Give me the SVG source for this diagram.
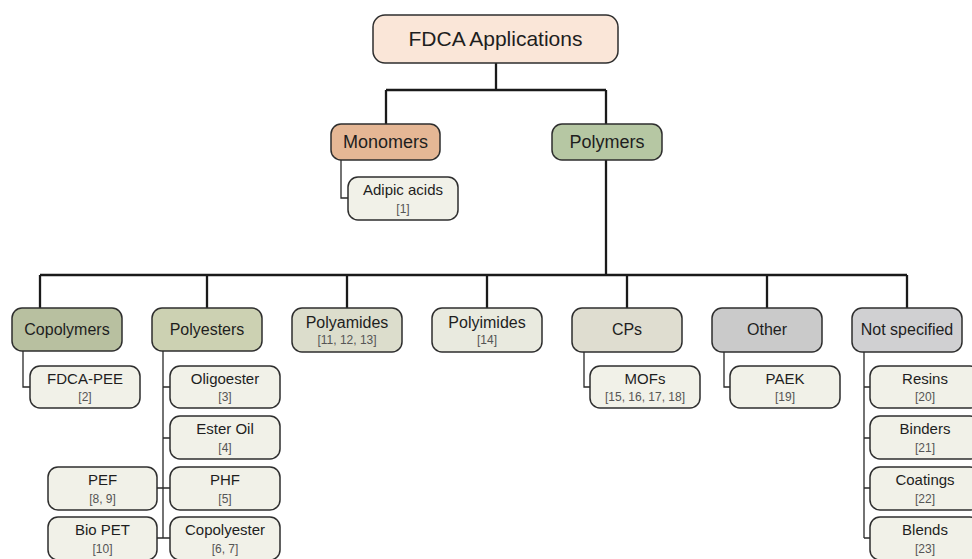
<svg xmlns="http://www.w3.org/2000/svg" width="972" height="559" viewBox="0 0 972 559">
<style>
  rect { stroke: #2e2e2e; stroke-width: 1.5; }
  text { font-family: "Liberation Sans", Arial, sans-serif; fill: #1e1e1e; text-anchor: middle; }
  .t0 { font-size: 21px; }
  .t1 { font-size: 18px; }
  .t2 { font-size: 16px; }
  .tn { font-size: 15px; }
  .tr { font-size: 12px; fill: #555; }
  .main { stroke: #1a1a1a; stroke-width: 2.3; fill: none; }
  .sub { stroke: #2a2a2a; stroke-width: 1.3; fill: none; }
  .leaf { fill: #f1f1e8; }
</style>
<rect width="972" height="559" fill="#ffffff" style="stroke:none"/>
<g id="connectors">
  <path class="main" d="M496,63 V90 M386,90 H606 M386,90 V124 M606,90 V124 M606,160 V275 M40,275 H907 M40,275 V308 M207,275 V308 M347,275 V308 M487,275 V308 M627,275 V308 M767,275 V308 M907,275 V308"/>
  <path class="sub" d="M341,160 V198 H348 M23,351 V387 H30 M163,351 V538 M163,387 H170 M163,438 H170 M157,488 H170 M157,538 H170 M584,352 V387 H590 M724,352 V387 H730 M864,352 V538 M864,387 H870 M864,438 H870 M864,488 H870 M864,538 H870"/>
</g>
<g id="fdca"><rect x="373" y="15" width="245" height="48" rx="12" fill="#fae6d8"/><text class="t0" x="495.5" y="46">FDCA Applications</text></g>
<g id="monomers"><rect x="331" y="124" width="109" height="36" rx="10" fill="#e5b795"/><text class="t1" x="385.5" y="148">Monomers</text></g>
<g id="polymers"><rect x="552" y="124" width="110" height="36" rx="10" fill="#b6c7a3"/><text class="t1" x="607" y="148">Polymers</text></g>
<g id="adipic"><rect class="leaf" x="348" y="177" width="110" height="43" rx="10"/><text class="tn" x="403" y="195">Adipic acids</text><text class="tr" x="403" y="213">[1]</text></g>

<g id="copolymers"><rect x="12" y="308" width="110" height="43" rx="10" fill="#b8c0a0"/><text class="t2" x="67" y="335">Copolymers</text></g>
<g id="polyesters"><rect x="152" y="308" width="110" height="43" rx="10" fill="#ccd1b2"/><text class="t2" x="207" y="335">Polyesters</text></g>
<g id="polyamides"><rect x="292" y="308" width="110" height="44" rx="10" fill="#dcddcc"/><text class="t2" x="347" y="328">Polyamides</text><text class="tr" x="347" y="344">[11, 12, 13]</text></g>
<g id="polyimides"><rect x="432" y="308" width="110" height="44" rx="10" fill="#e9eadf"/><text class="t2" x="487" y="328">Polyimides</text><text class="tr" x="487" y="344">[14]</text></g>
<g id="cps"><rect x="572" y="308" width="110" height="44" rx="10" fill="#dfddd0"/><text class="t2" x="627" y="335">CPs</text></g>
<g id="other"><rect x="712" y="308" width="110" height="44" rx="10" fill="#cacaca"/><text class="t2" x="767" y="335">Other</text></g>
<g id="notspecified"><rect x="852" y="308" width="110" height="44" rx="10" fill="#d0d0d2"/><text class="t2" x="907" y="335">Not specified</text></g>

<g id="fdcapee"><rect class="leaf" x="30" y="366" width="110" height="42" rx="10"/><text class="tn" x="85" y="384">FDCA-PEE</text><text class="tr" x="85" y="401">[2]</text></g>
<g id="oligoester"><rect class="leaf" x="170" y="366" width="110" height="42" rx="10"/><text class="tn" x="225" y="384">Oligoester</text><text class="tr" x="225" y="401">[3]</text></g>
<g id="esteroil"><rect class="leaf" x="170" y="416" width="110" height="43" rx="10"/><text class="tn" x="225" y="434">Ester Oil</text><text class="tr" x="225" y="452">[4]</text></g>
<g id="phf"><rect class="leaf" x="170" y="467" width="110" height="43" rx="10"/><text class="tn" x="225" y="485">PHF</text><text class="tr" x="225" y="503">[5]</text></g>
<g id="copolyester"><rect class="leaf" x="170" y="517" width="110" height="43" rx="10"/><text class="tn" x="225" y="535">Copolyester</text><text class="tr" x="225" y="553">[6, 7]</text></g>
<g id="pef"><rect class="leaf" x="48" y="467" width="109" height="43" rx="10"/><text class="tn" x="102.5" y="485">PEF</text><text class="tr" x="102.5" y="503">[8, 9]</text></g>
<g id="biopet"><rect class="leaf" x="48" y="517" width="109" height="43" rx="10"/><text class="tn" x="102.5" y="535">Bio PET</text><text class="tr" x="102.5" y="553">[10]</text></g>
<g id="mofs"><rect class="leaf" x="590" y="366" width="110" height="42" rx="10"/><text class="tn" x="645" y="384">MOFs</text><text class="tr" x="645" y="401">[15, 16, 17, 18]</text></g>
<g id="paek"><rect class="leaf" x="730" y="366" width="110" height="42" rx="10"/><text class="tn" x="785" y="384">PAEK</text><text class="tr" x="785" y="401">[19]</text></g>
<g id="resins"><rect class="leaf" x="870" y="366" width="110" height="42" rx="10"/><text class="tn" x="925" y="384">Resins</text><text class="tr" x="925" y="401">[20]</text></g>
<g id="binders"><rect class="leaf" x="870" y="416" width="110" height="43" rx="10"/><text class="tn" x="925" y="434">Binders</text><text class="tr" x="925" y="452">[21]</text></g>
<g id="coatings"><rect class="leaf" x="870" y="467" width="110" height="43" rx="10"/><text class="tn" x="925" y="485">Coatings</text><text class="tr" x="925" y="503">[22]</text></g>
<g id="blends"><rect class="leaf" x="870" y="517" width="110" height="43" rx="10"/><text class="tn" x="925" y="535">Blends</text><text class="tr" x="925" y="553">[23]</text></g>
</svg>
